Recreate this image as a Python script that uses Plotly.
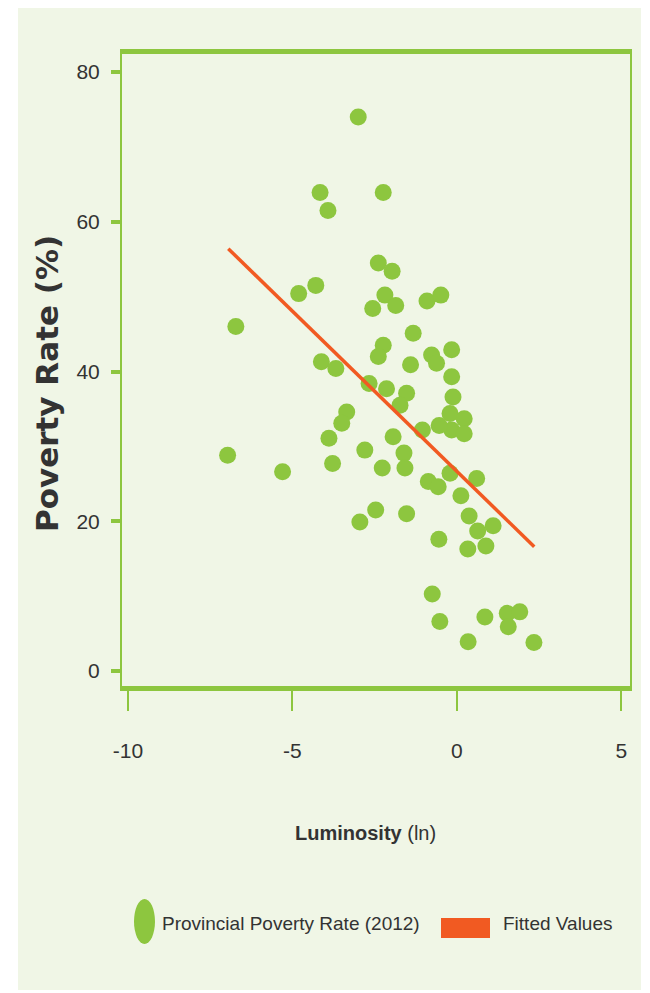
import plotly.graph_objects as go

# ---- data ----
lum = [-3.00, -4.16, -3.92, -2.24, -2.39, -1.97, -4.81, -4.29, -2.19, -2.56,
       -1.86, -0.91, -0.49, -6.72, -1.33, -2.24, -2.39, -0.77, -0.62, -0.16,
       -4.12, -3.68, -1.41, -0.16, -2.67, -2.14, -1.53, -1.73, -0.12, -0.21,
       -0.16, -3.35, -3.50, -3.89, -1.05, -0.54, 0.22, 0.22, -1.94, -6.97,
       -2.80, -1.61, -1.58, -3.78, -2.27, -5.30, -0.87, -0.57, -0.21, 0.60,
       0.12, 0.37, 0.63, 1.10, 0.88, 0.33, -0.55, -2.47, -2.95, -1.53,
       -0.75, -0.52, 0.85, 1.53, 1.56, 1.91, 0.34, 2.34]
poverty = [74.0, 63.9, 61.5, 63.9, 54.5, 53.4, 50.4, 51.5, 50.2, 48.4,
           48.8, 49.4, 50.2, 46.0, 45.1, 43.5, 42.0, 42.2, 41.1, 42.9,
           41.3, 40.4, 40.9, 39.3, 38.4, 37.7, 37.1, 35.5, 36.6, 34.4,
           32.2, 34.6, 33.1, 31.1, 32.2, 32.8, 33.7, 31.7, 31.3, 28.8,
           29.5, 29.1, 27.1, 27.7, 27.1, 26.6, 25.3, 24.6, 26.4, 25.7,
           23.4, 20.7, 18.7, 19.4, 16.7, 16.3, 17.6, 21.5, 19.9, 21.0,
           10.3, 6.6, 7.2, 7.7, 5.9, 7.9, 3.9, 3.8]
fit_x = [-6.95, 2.35]
fit_y = [56.4, 16.6]

x_ticks = [-10, -5, 0, 5]
x_tick_labels = ["-10", "-5", "0", "5"]
y_ticks = [0, 20, 40, 60, 80]
y_tick_labels = ["0", "20", "40", "60", "80"]
series_names = ["Provincial Poverty Rate (2012)", "Fitted Values"]
x_title = "<b>Luminosity</b> (ln)"
y_title = "Poverty Rate (%)"

# ---- style ----
BG = "#f0f6e6"
GREEN = "#8dc63f"
ORANGE = "#f15a22"
TEXT = "#333333"
FONT = "Liberation Sans, Arial, sans-serif"

W, H = 650, 993
OFF = 8  # page offset of the figure (body margin)
# plot area in page pixels
PL, PR, PT, PB = 122, 630, 54, 686
L, R, T, B = PL - OFF, PR - OFF, PT - OFF, PB - OFF


def px(x):
    """page x pixel -> paper coordinate"""
    return (x - OFF - L) / (R - L)


def py(y):
    """page y pixel -> paper coordinate"""
    return (B - (y - OFF)) / (B - T)


fig = go.Figure()
fig.add_trace(go.Scatter(
    x=lum, y=poverty, mode="markers", name=series_names[0],
    marker=dict(color=GREEN, size=17, line=dict(width=0)),
    showlegend=False,
))
fig.add_trace(go.Scatter(
    x=fit_x, y=fit_y, mode="lines", name=series_names[1],
    line=dict(color=ORANGE, width=3.5),
    showlegend=False,
))

shapes = [
    # light green card behind the chart
    dict(type="rect", xref="paper", yref="paper", layer="below",
         x0=px(18), x1=px(641), y0=py(990), y1=py(3),
         fillcolor=BG, line=dict(width=0)),
    # legend symbols
    dict(type="circle", xref="paper", yref="paper",
         x0=px(134), x1=px(155), y0=py(944), y1=py(899),
         fillcolor=GREEN, line=dict(width=0)),
    dict(type="rect", xref="paper", yref="paper",
         x0=px(441), x1=px(490), y0=py(938), y1=py(918),
         fillcolor=ORANGE, line=dict(width=0)),
]

annotations = [
    dict(text=x_title, xref="paper", yref="paper", x=px(365), y=py(833),
         xanchor="center", yanchor="middle", showarrow=False,
         font=dict(family=FONT, size=20, color=TEXT)),
    dict(text="<b>" + y_title + "</b>", xref="paper", yref="paper",
         x=px(47), y=py(384), textangle=-90,
         xanchor="center", yanchor="middle", showarrow=False,
         font=dict(family="DejaVu Sans, sans-serif", size=31, color=TEXT)),
    dict(text=series_names[0], xref="paper", yref="paper", x=px(160), y=py(923),
         xanchor="left", yanchor="middle", showarrow=False,
         font=dict(family=FONT, size=19, color=TEXT)),
    dict(text=series_names[1], xref="paper", yref="paper", x=px(501), y=py(923),
         xanchor="left", yanchor="middle", showarrow=False,
         font=dict(family=FONT, size=19, color=TEXT)),
]

fig.update_layout(
    width=W, height=H,
    margin=dict(l=L, r=W - R, t=T, b=H - B, pad=0),
    paper_bgcolor="white",
    plot_bgcolor=BG,
    showlegend=False,
    shapes=shapes,
    annotations=annotations,
    xaxis=dict(
        range=[-10.18, 5.26], tickvals=x_ticks, ticktext=x_tick_labels,
        ticks="outside", ticklen=20, tickwidth=2, tickcolor=GREEN,
        showline=True, linewidth=5, linecolor=GREEN, mirror=True,
        showgrid=False, zeroline=False, ticklabelstandoff=22,
        tickfont=dict(family=FONT, size=21, color=TEXT),
    ),
    yaxis=dict(
        range=[-2.0, 82.4], tickvals=y_ticks, ticktext=y_tick_labels,
        ticks="outside", ticklen=9, tickwidth=4, tickcolor=GREEN,
        showline=True, linewidth=2, linecolor=GREEN, mirror=True,
        showgrid=False, zeroline=False, ticklabelstandoff=7,
        tickfont=dict(family=FONT, size=21, color=TEXT),
    ),
)

fig.write_html("out.html")
